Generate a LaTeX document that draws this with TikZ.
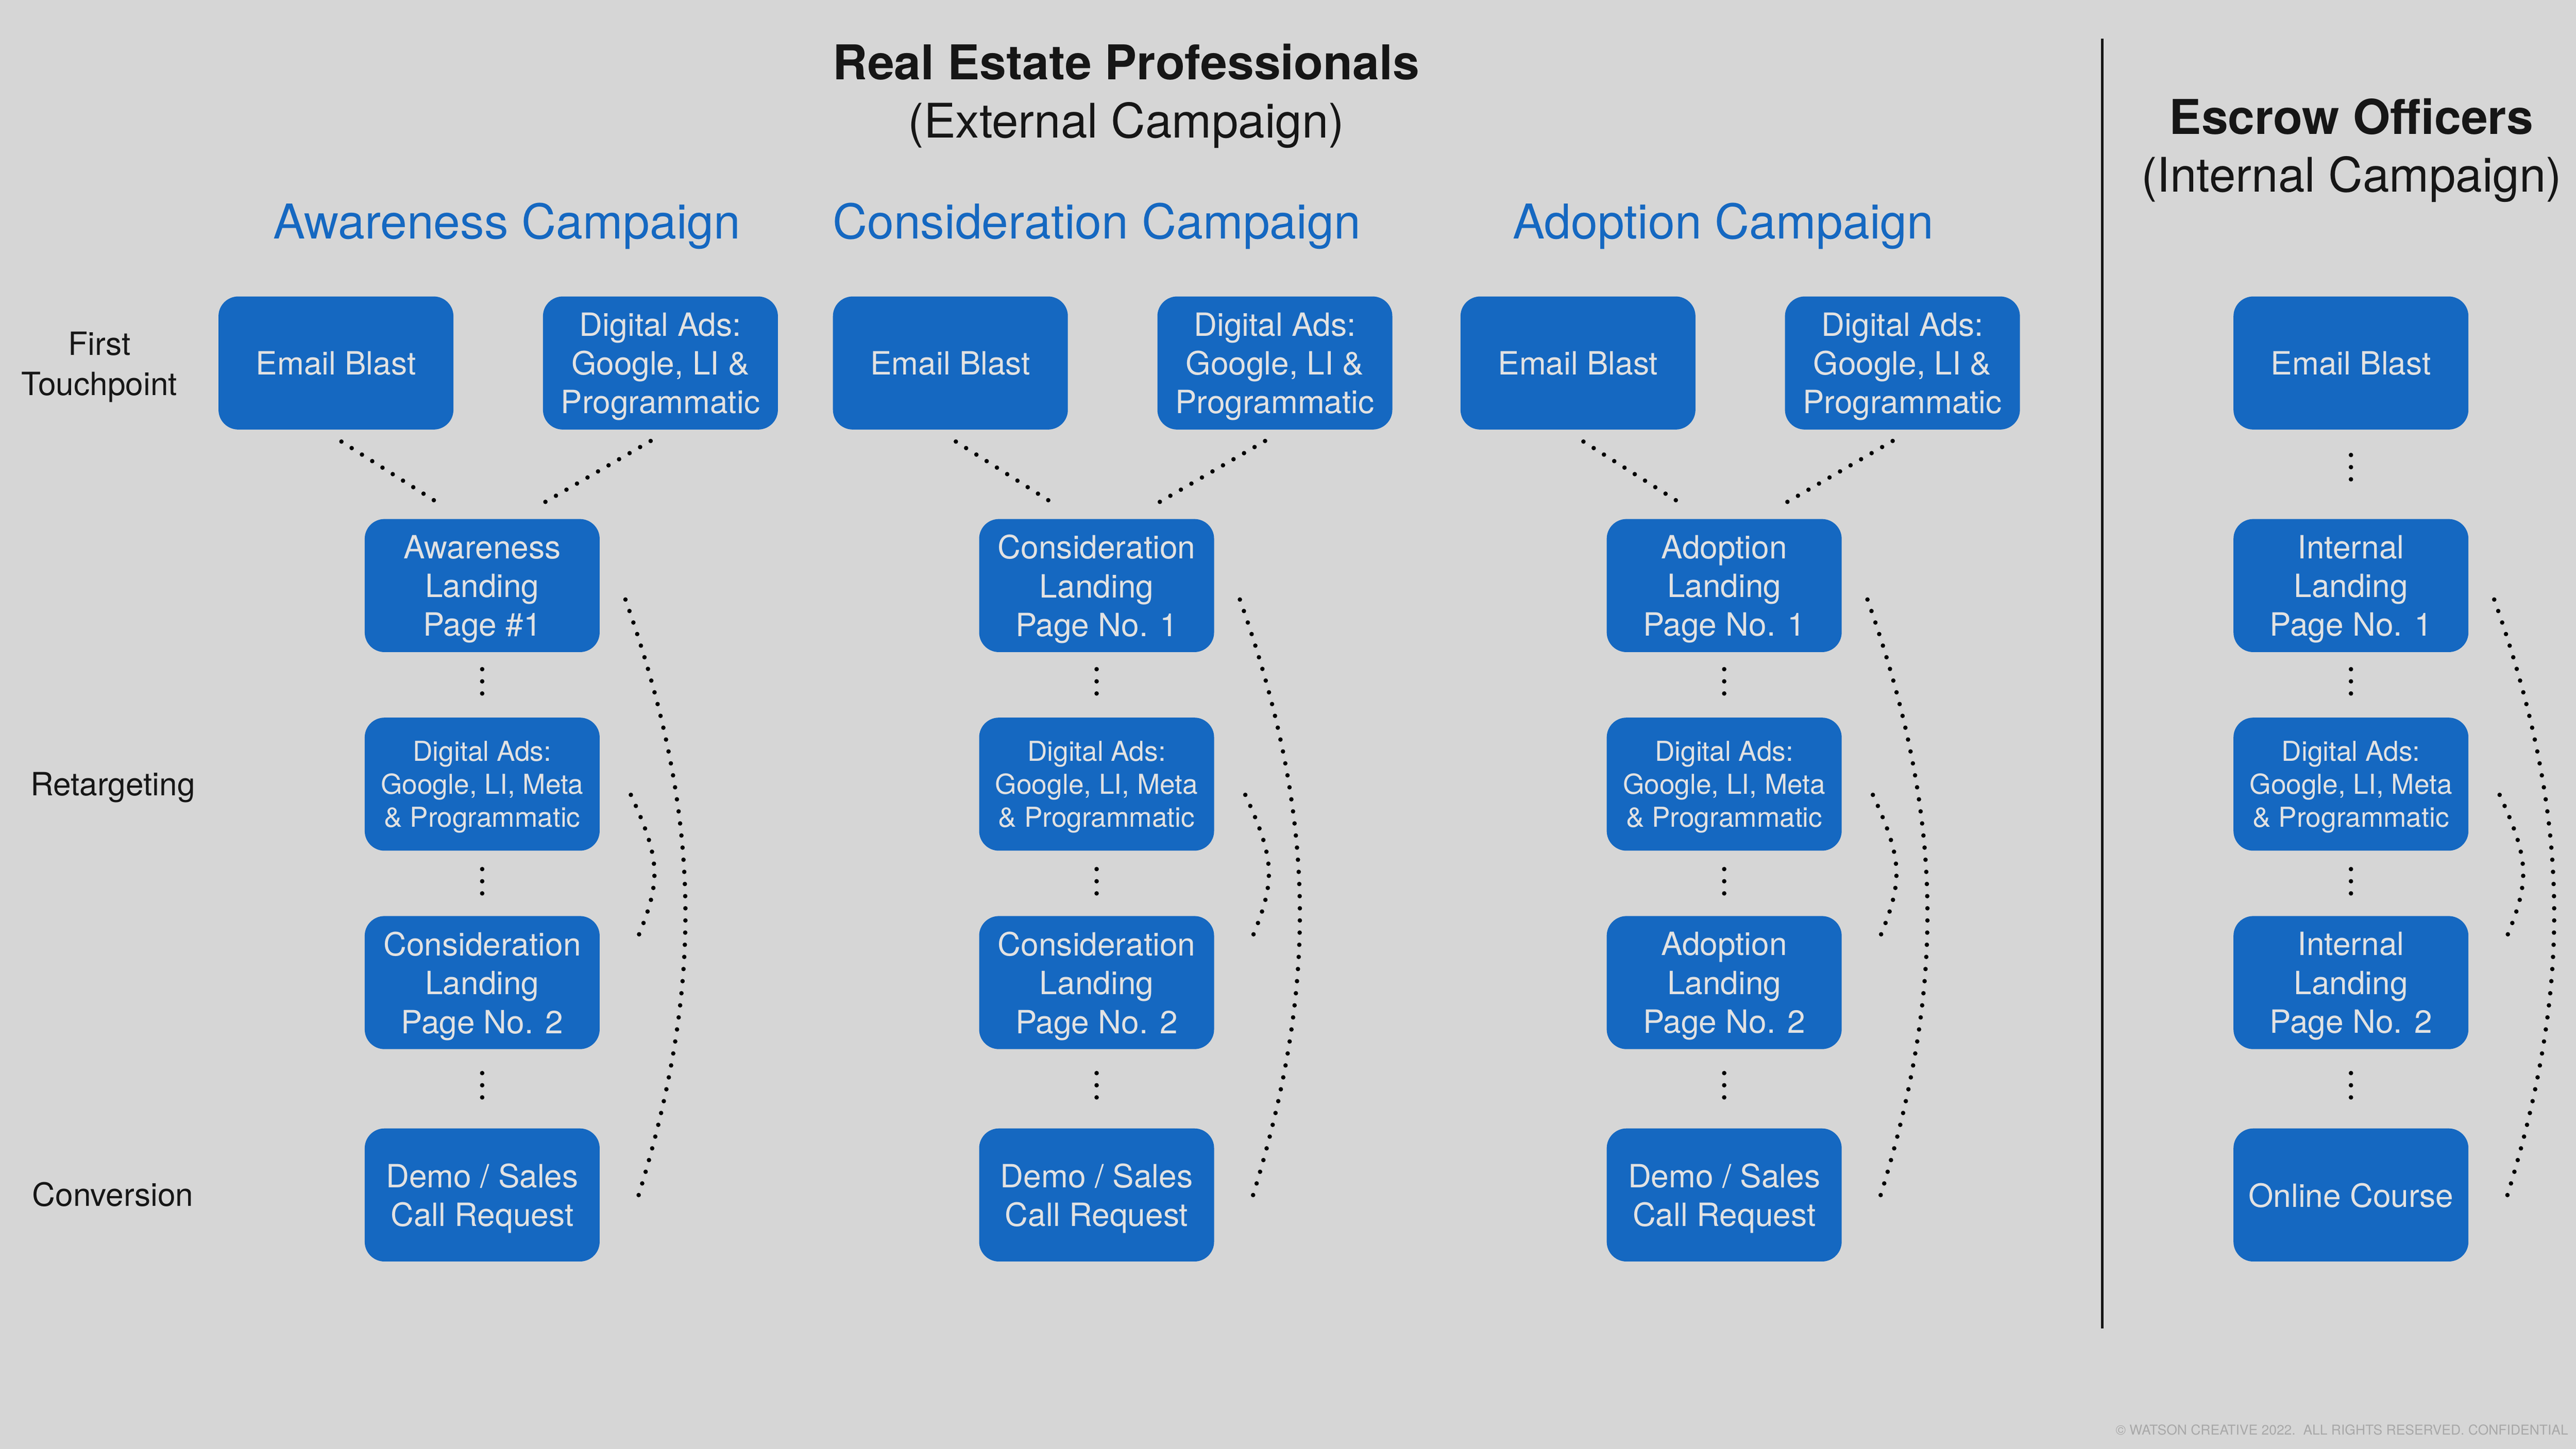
\documentclass[tikz,border=0pt]{standalone}
\usepackage{fontspec}
\setmainfont{TeX Gyre Heros}
\usepackage{tikz}
\usetikzlibrary{calc}
\definecolor{bgGray}{RGB}{214,214,214}
\definecolor{boxBlue}{RGB}{21,104,193}
\definecolor{boxText}{RGB}{226,226,226}
\definecolor{inkBlack}{RGB}{22,22,22}
\definecolor{noteGray}{RGB}{168,168,168}

\begin{document}
\begin{tikzpicture}[x=1pt,y=1pt,yscale=-1,
  box/.style={fill=boxBlue, rounded corners=12pt, minimum width=143pt, minimum height=81pt, inner sep=2pt, align=center, text=boxText, text depth=0pt, font=\fontsize{19.5}{23.6}\selectfont},
  smallbox/.style={box, font=\fontsize{16.7}{20}\selectfont},
  title/.style={anchor=base, inner sep=0pt, text=inkBlack, font=\fontsize{29.2}{35}\selectfont\bfseries},
  subtitle/.style={anchor=base, inner sep=0pt, text=inkBlack, font=\fontsize{29}{35}\selectfont},
  head/.style={anchor=base, inner sep=0pt, text=boxBlue, font=\fontsize{29.2}{35}\selectfont},
  stage/.style={anchor=base, inner sep=0pt, text=inkBlack, font=\fontsize{19.5}{24.3}\selectfont},
  dotline/.style={draw=black, line width=2.7pt, line cap=round, dash pattern=on 0pt off 7.4pt}]
%set diagram left start at 0, and has height of 882
\fill [bgGray] (0,0) rectangle (1568,882);

% Text Node
\draw (685.5,48.5) node (titleExt) [title] {Real Estate Professionals};
% Text Node
\draw (685.5,83.9) node (subExt) [subtitle] {(External Campaign)};
% Text Node
\draw (1431.3,81.6) node (titleInt) [title] {Escrow Officers};
% Text Node
\draw (1431.3,116.9) node (subInt) [subtitle] {(Internal Campaign)};
% Text Node
\draw (308.5,145.5) node (headA) [head] {Awareness Campaign};
% Text Node
\draw (667.5,145.5) node (headC) [head] {Consideration Campaign};
% Text Node
\draw (1049,145.5) node (headD) [head] {Adoption Campaign};
% Text Node
\draw (60.5,221.3) node (stageFirst) [stage, anchor=center, align=center, text depth=0pt] {First\\Touchpoint};
% Text Node
\draw (68.7,484.3) node (stageRet) [stage] {Retargeting};
% Text Node
\draw (68.7,734.4) node (stageConv) [stage] {Conversion};

% Awareness column
\draw (204.5,221) node (emailA) [box] {Email Blast};
\draw (402,221) node (adsA) [box] {Digital Ads:\\Google, LI \&\\Programmatic};
\draw (293.5,356.5) node (land1A) [box] {Awareness\\Landing\\Page \#1};
\draw (293.5,477.4) node (retA) [smallbox] {Digital Ads:\\Google, LI, Meta\\\& Programmatic};
\draw (293.5,598.2) node (land2A) [box] {Consideration\\Landing\\Page No. 2};
\draw (293.5,727.5) node (convA) [box] {Demo / Sales\\Call Request};

% Consideration column
\draw (578.5,221) node (emailC) [box] {Email Blast};
\draw (776,221) node (adsC) [box] {Digital Ads:\\Google, LI \&\\Programmatic};
\draw (667.5,356.5) node (land1C) [box] {Consideration\\Landing\\Page No. 1};
\draw (667.5,477.4) node (retC) [smallbox] {Digital Ads:\\Google, LI, Meta\\\& Programmatic};
\draw (667.5,598.2) node (land2C) [box] {Consideration\\Landing\\Page No. 2};
\draw (667.5,727.5) node (convC) [box] {Demo / Sales\\Call Request};

% Adoption column
\draw (960.5,221) node (emailD) [box] {Email Blast};
\draw (1158,221) node (adsD) [box] {Digital Ads:\\Google, LI \&\\Programmatic};
\draw (1049.5,356.5) node (land1D) [box] {Adoption\\Landing\\Page No. 1};
\draw (1049.5,477.4) node (retD) [smallbox] {Digital Ads:\\Google, LI, Meta\\\& Programmatic};
\draw (1049.5,598.2) node (land2D) [box] {Adoption\\Landing\\Page No. 2};
\draw (1049.5,727.5) node (convD) [box] {Demo / Sales\\Call Request};

% Escrow column
\draw (1431,221) node (emailE) [box] {Email Blast};
\draw (1431,356.5) node (land1E) [box] {Internal\\Landing\\Page No. 1};
\draw (1431,477.4) node (retE) [smallbox] {Digital Ads:\\Google, LI, Meta\\\& Programmatic};
\draw (1431,598.2) node (land2E) [box] {Internal\\Landing\\Page No. 2};
\draw (1431,727.5) node (convE) [box] {Online Course};

% Separator
\draw [line width=1.5pt, inkBlack] (1279.6,23.4) -- (1279.6,808.7);

% Connection
\draw [dotline, shorten <=13.3pt, shorten >=13.9pt] (emailA.-101) -- (land1A.106);
% Connection
\draw [dotline, shorten <=13.5pt, shorten >=13.7pt] (adsA.-82) -- (land1A.63);
% Connection
\draw [dotline, shorten <=10.2pt, shorten >=10pt] (land1A) -- (retA);
% Connection
\draw [dotline, shorten <=11pt, shorten >=11pt] (retA) -- (land2A);
% Connection
\draw [dotline, shorten <=14.4pt, shorten >=14pt] (land2A) -- (convA);
% Connection
\draw [dotline] ($(land1A.east)+(15.5,8.5)$) .. controls +(47.6,134) and +(41,-130) .. ($(convA.east)+(22,5)$);
% Connection
\draw [dotline] ($(retA.east)+(18.8,6.5)$) .. controls +(18.7,40.8) and +(16.2,-38) .. ($(land2A.east)+(21.3,-23.4)$);

% Connection
\draw [dotline, shorten <=13.3pt, shorten >=13.9pt] (emailC.-101) -- (land1C.106);
% Connection
\draw [dotline, shorten <=13.5pt, shorten >=13.7pt] (adsC.-82) -- (land1C.63);
% Connection
\draw [dotline, shorten <=10.2pt, shorten >=10pt] (land1C) -- (retC);
% Connection
\draw [dotline, shorten <=11pt, shorten >=11pt] (retC) -- (land2C);
% Connection
\draw [dotline, shorten <=14.4pt, shorten >=14pt] (land2C) -- (convC);
% Connection
\draw [dotline] ($(land1C.east)+(15.5,8.5)$) .. controls +(47.6,134) and +(41,-130) .. ($(convC.east)+(22,5)$);
% Connection
\draw [dotline] ($(retC.east)+(18.8,6.5)$) .. controls +(18.7,40.8) and +(16.2,-38) .. ($(land2C.east)+(21.3,-23.4)$);

% Connection
\draw [dotline, shorten <=13.3pt, shorten >=13.9pt] (emailD.-101) -- (land1D.106);
% Connection
\draw [dotline, shorten <=13.5pt, shorten >=13.7pt] (adsD.-82) -- (land1D.63);
% Connection
\draw [dotline, shorten <=10.2pt, shorten >=10pt] (land1D) -- (retD);
% Connection
\draw [dotline, shorten <=11pt, shorten >=11pt] (retD) -- (land2D);
% Connection
\draw [dotline, shorten <=14.4pt, shorten >=14pt] (land2D) -- (convD);
% Connection
\draw [dotline] ($(land1D.east)+(15.5,8.5)$) .. controls +(47.6,134) and +(41,-130) .. ($(convD.east)+(22,5)$);
% Connection
\draw [dotline] ($(retD.east)+(18.8,6.5)$) .. controls +(18.7,40.8) and +(16.2,-38) .. ($(land2D.east)+(21.3,-23.4)$);

% Connection
\draw [dotline, shorten <=15.3pt, shorten >=20pt] (emailE) -- (land1E);
% Connection
\draw [dotline, shorten <=10.2pt, shorten >=10pt] (land1E) -- (retE);
% Connection
\draw [dotline, shorten <=11pt, shorten >=11pt] (retE) -- (land2E);
% Connection
\draw [dotline, shorten <=14.4pt, shorten >=14pt] (land2E) -- (convE);
% Connection
\draw [dotline] ($(land1E.east)+(15.5,8.5)$) .. controls +(47.6,134) and +(41,-130) .. ($(convE.east)+(22,5)$);
% Connection
\draw [dotline] ($(retE.east)+(18.8,6.5)$) .. controls +(18.7,40.8) and +(16.2,-38) .. ($(land2E.east)+(21.3,-23.4)$);

% Text Node
\draw (1563.4,873.4) node (note) [anchor=base east, inner sep=0pt, text=noteGray, font=\fontsize{8.3}{10}\selectfont] {© WATSON CREATIVE 2022.\ \ ALL RIGHTS RESERVED.\ CONFIDENTIAL};

\end{tikzpicture}
\end{document}
